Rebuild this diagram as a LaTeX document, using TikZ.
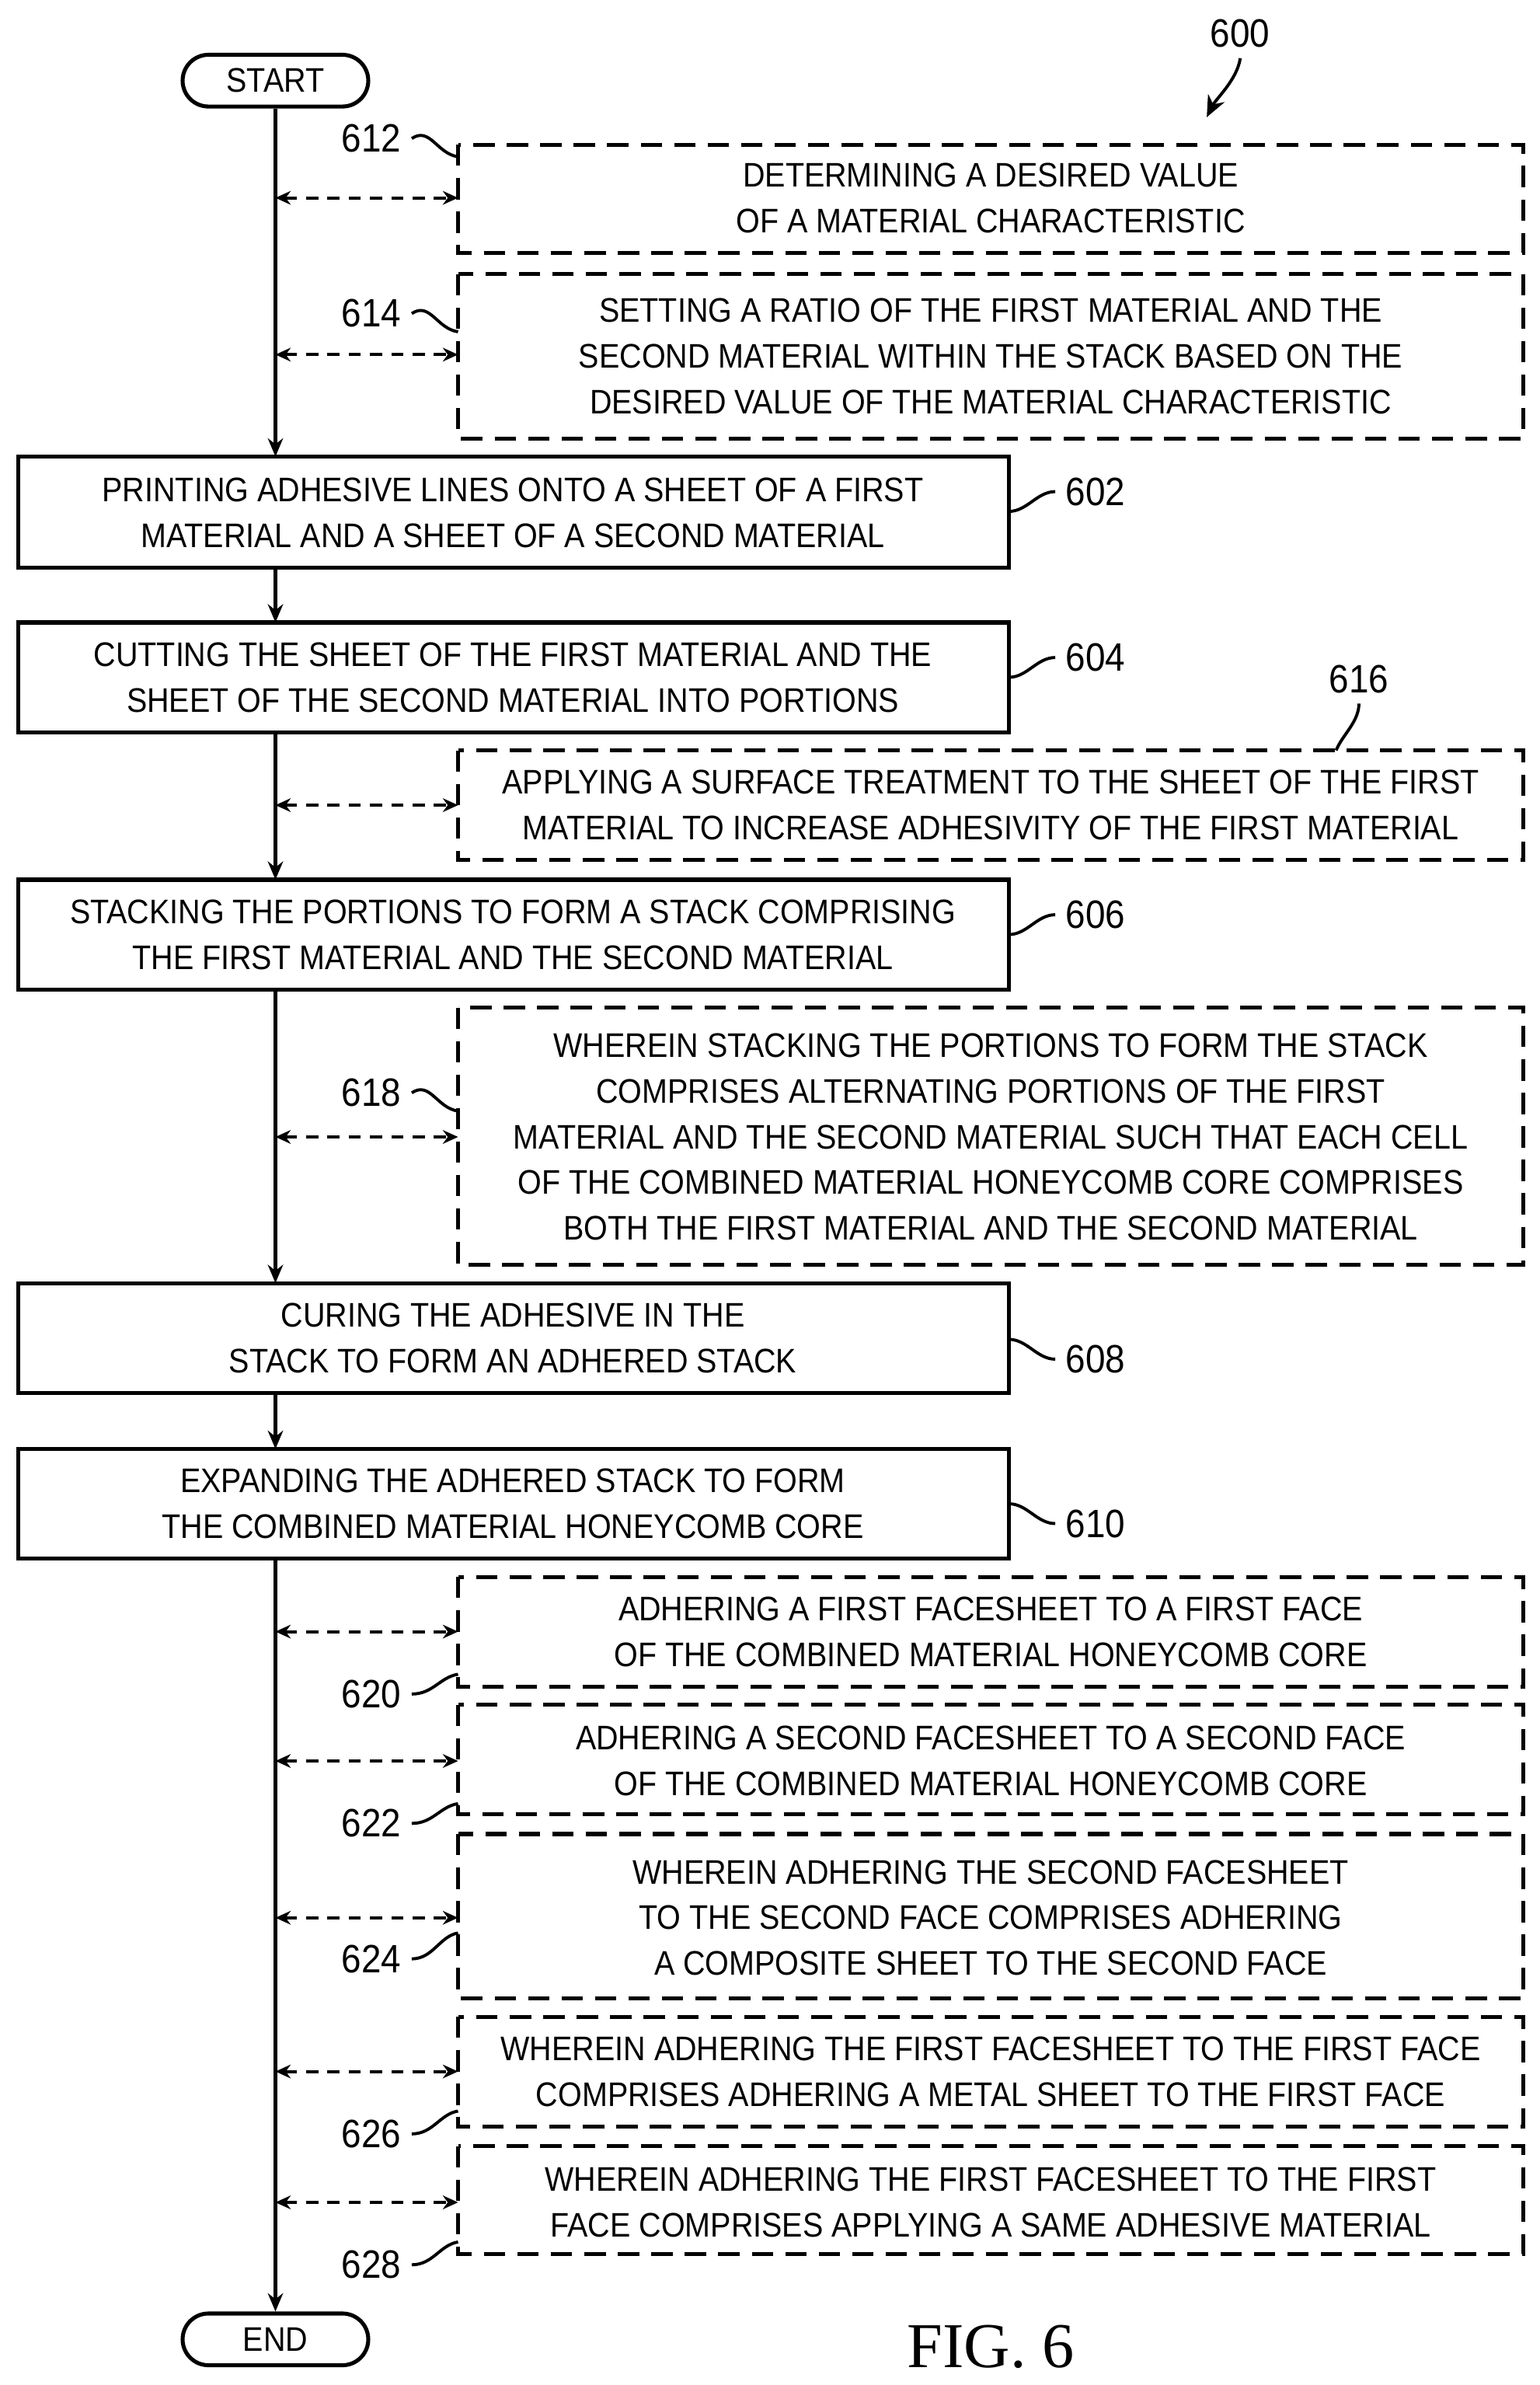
\documentclass[tikz,border=0pt]{standalone}
\usepackage{fontspec}
\setmainfont[FakeStretch=0.9]{Liberation Sans}
\newfontfamily\figfont{Liberation Serif}
\usetikzlibrary{arrows.meta}
\begin{document}
\begin{tikzpicture}[x=0.5pt,y=-0.5pt,
  txt/.style={font=\fontsize{11.2}{15}\selectfont,align=center},
  solidbox/.style={draw,line width=1.3pt,inner sep=0pt},
  dbox/.style={draw,line width=1.3pt,dash pattern=on 7pt off 4pt,inner sep=0pt},
  term/.style={draw,line width=1.3pt,rounded corners=8.5pt,minimum width=61pt,minimum height=17pt,font=\fontsize{11.2}{13}\selectfont},
  flow/.style={line width=1.3pt,-{Stealth[length=6pt,width=5pt]}},
  side/.style={line width=1pt,dash pattern=on 4pt off 3pt,{Stealth[length=5pt,width=4.5pt]}-{Stealth[length=5pt,width=4.5pt]}},
  lab/.style={font=\fontsize{13}{15}\selectfont},
  lead/.style={line width=1pt}]
\useasboundingbox (0,0) rectangle (1011.7,1567);
\node[term] (start) at (181,53) {START};
\node[term] (end) at (181,1537) {END};
% boxes
\draw[dbox] (301,95) rectangle (1001,166);
\node[txt] (b612) at (651,130) {DETERMINING A DESIRED VALUE\\OF A MATERIAL CHARACTERISTIC};
\draw[dbox] (301,180) rectangle (1001,288);
\node[txt] (b614) at (651,234) {SETTING A RATIO OF THE FIRST MATERIAL AND THE\\SECOND MATERIAL WITHIN THE STACK BASED ON THE\\DESIRED VALUE OF THE MATERIAL CHARACTERISTIC};
\draw[solidbox] (12,300) rectangle (663,373);
\node[txt] (b602) at (337,337) {PRINTING ADHESIVE LINES ONTO A SHEET OF A FIRST\\MATERIAL AND A SHEET OF A SECOND MATERIAL};
\draw[solidbox] (12,409) rectangle (663,481);
\node[txt] (b604) at (337,445) {CUTTING THE SHEET OF THE FIRST MATERIAL AND THE\\SHEET OF THE SECOND MATERIAL INTO PORTIONS};
\draw[dbox] (301,493) rectangle (1001,565);
\node[txt] (b616) at (651,529) {APPLYING A SURFACE TREATMENT TO THE SHEET OF THE FIRST\\MATERIAL TO INCREASE ADHESIVITY OF THE FIRST MATERIAL};
\draw[solidbox] (12,578) rectangle (663,650);
\node[txt] (b606) at (337,614) {STACKING THE PORTIONS TO FORM A STACK COMPRISING\\THE FIRST MATERIAL AND THE SECOND MATERIAL};
\draw[dbox] (301,662) rectangle (1001,831);
\node[txt] (b618) at (651,747) {WHEREIN STACKING THE PORTIONS TO FORM THE STACK\\COMPRISES ALTERNATING PORTIONS OF THE FIRST\\MATERIAL AND THE SECOND MATERIAL SUCH THAT EACH CELL\\OF THE COMBINED MATERIAL HONEYCOMB CORE COMPRISES\\BOTH THE FIRST MATERIAL AND THE SECOND MATERIAL};
\draw[solidbox] (12,843) rectangle (663,915);
\node[txt] (b608) at (337,879) {CURING THE ADHESIVE IN THE\\STACK TO FORM AN ADHERED STACK};
\draw[solidbox] (12,952) rectangle (663,1024);
\node[txt] (b610) at (337,988) {EXPANDING THE ADHERED STACK TO FORM\\THE COMBINED MATERIAL HONEYCOMB CORE};
\draw[dbox] (301,1036) rectangle (1001,1108);
\node[txt] (b620) at (651,1072) {ADHERING A FIRST FACESHEET TO A FIRST FACE\\OF THE COMBINED MATERIAL HONEYCOMB CORE};
\draw[dbox] (301,1120) rectangle (1001,1192);
\node[txt] (b622) at (651,1157) {ADHERING A SECOND FACESHEET TO A SECOND FACE\\OF THE COMBINED MATERIAL HONEYCOMB CORE};
\draw[dbox] (301,1205) rectangle (1001,1313);
\node[txt] (b624) at (651,1260) {WHEREIN ADHERING THE SECOND FACESHEET\\TO THE SECOND FACE COMPRISES ADHERING\\A COMPOSITE SHEET TO THE SECOND FACE};
\draw[dbox] (301,1325) rectangle (1001,1397);
\node[txt] (b626) at (651,1361) {WHEREIN ADHERING THE FIRST FACESHEET TO THE FIRST FACE\\COMPRISES ADHERING A METAL SHEET TO THE FIRST FACE};
\draw[dbox] (301,1410) rectangle (1001,1481);
\node[txt] (b628) at (651,1447) {WHEREIN ADHERING THE FIRST FACESHEET TO THE FIRST\\FACE COMPRISES APPLYING A SAME ADHESIVE MATERIAL};
% main flow coordinates
\foreach \n/\y in {a/300,b/409,c/578,d/843,e/952} {\coordinate (t\n) at (181,\y);}
\foreach \n/\y in {a/373,b/481,c/650,d/915,e/1024} {\coordinate (s\n) at (181,\y);}
\draw[flow] (start) -- (ta);
\draw[flow] (sa) -- (tb);
\draw[flow] (sb) -- (tc);
\draw[flow] (sc) -- (td);
\draw[flow] (sd) -- (te);
\draw[flow] (se) -- (end);
% side arrows
\foreach \y/\n in {130/612,233/614,529/616,747/618,1072/620,1157/622,1260/624,1361/626,1447/628} {
  \coordinate (m\n) at (181,\y); \coordinate (r\n) at (301,\y);
  \draw[side] (m\n) -- (r\n);}
% labels left
\foreach \n/\y/\cy in {612/91/103,614/206/218,618/718/730} {
  \node[lab] (l\n) at (244,\y) {\n};
  \coordinate (c\n) at (301,\cy);
  \draw[lead] (l\n.east) .. controls +(12,-8) and +(-14,-2) .. (c\n);}
\foreach \n/\y/\cy in {620/1113/1100,622/1198/1185,624/1287/1270,626/1402/1387,628/1488/1473} {
  \node[lab] (l\n) at (244,\y) {\n};
  \coordinate (c\n) at (301,\cy);
  \draw[lead] (l\n.east) .. controls +(14,0) and +(-12,2) .. (c\n);}
% labels right
\foreach \n/\y/\cy in {602/323/336,604/432/445,606/601/614,608/893/880,610/1001/988} {
  \node[lab] (l\n) at (720,\y) {\n};
  \coordinate (c\n) at (663,\cy);
  \draw[lead] (c\n) .. controls +(12,0) and +(-12,0) .. (l\n.west);}
\node[lab] (l616) at (893,446) {616};
\coordinate (c616) at (878,493);
\draw[lead] (l616.south) .. controls +(0,12) and +(4,-10) .. (c616);
\node[lab] (l600) at (815,22) {600};
\coordinate (c600) at (793,77);
\draw[lead,-{Stealth[length=7pt,width=6pt]}] (l600.south) .. controls +(-2,14) and +(6,-12) .. (c600);
\node[font=\figfont\fontsize{21}{24}\selectfont] (fig) at (651,1542) {FIG. 6};
\end{tikzpicture}
\end{document}
